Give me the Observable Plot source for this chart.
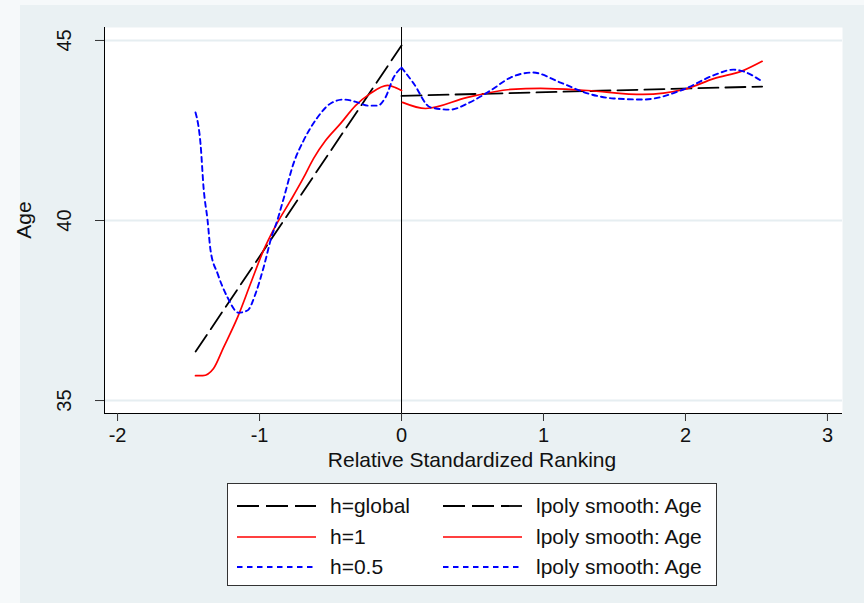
<!DOCTYPE html>
<html>
<head>
<meta charset="utf-8">
<script src="https://cdn.jsdelivr.net/npm/d3@7"></script>
<script src="https://cdn.jsdelivr.net/npm/@observablehq/plot@0.6"></script>
<style>
  body { margin: 0; background: #f6f9fa; font-family: "Liberation Sans", Arial, sans-serif; }
  #fig { position: relative; width: 864px; height: 603px; overflow: hidden; }
  #bg { position: absolute; left: 20px; top: 5px; width: 844px; height: 598px; background: #eaf1f3; }
  #chart { position: absolute; left: 0; top: 0; }
  .lab { position: absolute; font-size: 21px; color: #111; white-space: nowrap; line-height: 24px; }
  #ylab { left: 24px; top: 220px; transform: translate(-50%, -50%) rotate(-90deg); }
  #xlab { left: 472px; top: 460px; transform: translate(-50%, -50%); }
  #legend { position: absolute; left: 227px; top: 483px; width: 488px; height: 101px; background: white; border: 1px solid #333; }
  .item { position: absolute; font-size: 21px; line-height: 24px; color: #111; display: flex; align-items: center; white-space: nowrap; }
  .item svg { margin-right: 14px; }
</style>
</head>
<body>
<div id="fig">
  <div id="bg"></div>
  <div id="chart"></div>
  <div class="lab" id="ylab">Age</div>
  <div class="lab" id="xlab">Relative Standardized Ranking</div>
  <div id="legend"></div>
</div>
<script>
// series (left and right of the cutoff at 0)
const globalLeftX = [-1.45, 0];
const globalLeftY = [36.36, 44.86];
const globalRightX = [0, 2.54];
const globalRightY = [43.46, 43.72];

const h1LeftX = [-1.451, -1.40, -1.324, -1.254, -1.155, -1.063, -0.972, -0.887, -0.782, -0.690, -0.620, -0.535, -0.430, -0.324, -0.218, -0.099, -0.042, 0];
const h1LeftY = [35.69, 35.69, 35.89, 36.47, 37.31, 38.25, 39.17, 39.85, 40.55, 41.19, 41.72, 42.22, 42.69, 43.19, 43.53, 43.75, 43.69, 43.61];
const h1RightX = [0.007, 0.17, 0.465, 0.77, 0.98, 1.31, 1.70, 1.99, 2.20, 2.41, 2.54];
const h1RightY = [43.28, 43.11, 43.42, 43.64, 43.67, 43.61, 43.50, 43.64, 43.94, 44.17, 44.42];

const h05LeftX = [-1.451, -1.415, -1.394, -1.366, -1.345, -1.296, -1.225, -1.148, -1.085, -1.028, -0.972, -0.908, -0.887, -0.831, -0.761, -0.690, -0.592, -0.500, -0.408, -0.310, -0.239, -0.169, -0.113, -0.056, 0];
const h05LeftY = [43.00, 42.10, 40.90, 40.00, 39.17, 38.53, 37.86, 37.44, 37.50, 37.97, 38.69, 39.64, 39.86, 40.60, 41.58, 42.22, 42.86, 43.25, 43.36, 43.28, 43.19, 43.19, 43.42, 43.97, 44.25];
const h05RightX = [0, 0.085, 0.204, 0.345, 0.465, 0.627, 0.768, 0.923, 1.12, 1.31, 1.493, 1.704, 1.986, 2.197, 2.338, 2.408, 2.54];
const h05RightY = [44.25, 43.81, 43.14, 43.08, 43.25, 43.61, 43.97, 44.11, 43.83, 43.53, 43.39, 43.36, 43.64, 44.03, 44.19, 44.14, 43.86];

const xTicks = [-2, -1, 0, 1, 2, 3];
const yTicks = [35, 40, 45];
const legendLabels = ["h=global", "lpoly smooth: Age", "h=1", "lpoly smooth: Age", "h=0.5", "lpoly smooth: Age"];

function rows(name, xs, ys) {
  return xs.map((x, i) => ({series: name, x: x, y: ys[i]}));
}

const globalData = rows("gl", globalLeftX, globalLeftY).concat(rows("gr", globalRightX, globalRightY));
const h1Data = rows("rl", h1LeftX, h1LeftY).concat(rows("rr", h1RightX, h1RightY));
const h05Data = rows("bl", h05LeftX, h05LeftY).concat(rows("br", h05RightX, h05RightY));

const styles = [
  {stroke: "#000000", dash: "20,7", legendDash: "22,7", width: 1.8},
  {stroke: "#ff0000", dash: null, legendDash: null, width: 1.7},
  {stroke: "#0000ff", dash: "5,4", legendDash: "5.5,4.5", width: 1.9}
];

const xDomain = [-2.092, 3.106];
const yDomain = [34.64, 45.36];

const plot = Plot.plot({
  width: 864,
  height: 470,
  marginLeft: 104,
  marginRight: 22,
  marginTop: 27,
  marginBottom: 57,
  style: {background: "transparent", fontFamily: "Liberation Sans, Arial, sans-serif", color: "#111"},
  x: {domain: xDomain},
  y: {domain: yDomain},
  marks: [
    Plot.frame({fill: "white", stroke: null}),
    Plot.gridY(yTicks, {stroke: "#e6eef1", strokeOpacity: 1, strokeWidth: 2}),
    Plot.ruleX([xDomain[0]], {stroke: "#000"}),
    Plot.ruleY([yDomain[0]], {stroke: "#000"}),
    Plot.ruleX([0], {stroke: "#000", strokeWidth: 1}),
    Plot.axisX(xTicks, {tickSize: 8, tickPadding: 6, fontSize: 20, tickFormat: d => String(d), label: null, stroke: "#333"}),
    Plot.axisY(yTicks, {tickSize: 9, tickRotate: -90, tickPadding: 25, fontSize: 20, tickFormat: d => String(d), label: null, stroke: "#333"}),
    Plot.line(globalData, {x: "x", y: "y", z: "series", stroke: styles[0].stroke, strokeWidth: styles[0].width, strokeDasharray: styles[0].dash}),
    Plot.line(h1Data, {x: "x", y: "y", z: "series", stroke: styles[1].stroke, strokeWidth: styles[1].width, curve: "monotone-x"}),
    Plot.line(h05Data, {x: "x", y: "y", z: "series", stroke: styles[2].stroke, strokeWidth: styles[2].width, strokeDasharray: styles[2].dash, curve: "monotone-x"})
  ]
});
document.getElementById("chart").append(plot);

// legend: two columns, three rows
const legend = document.getElementById("legend");
legendLabels.forEach((label, i) => {
  const row = Math.floor(i / 2), col = i % 2;
  const s = styles[row];
  const item = document.createElement("div");
  item.className = "item";
  item.style.left = (col === 0 ? 9 : 215) + "px";
  item.style.top = (10 + row * 30.5) + "px";
  item.innerHTML = `<svg width="79" height="12"><line x1="0" x2="79" y1="6" y2="6" stroke="${s.stroke}" stroke-width="${s.width}" ${s.legendDash ? `stroke-dasharray="${s.legendDash}"` : ""}/></svg><span>${label}</span>`;
  legend.append(item);
});
</script>
</body>
</html>
